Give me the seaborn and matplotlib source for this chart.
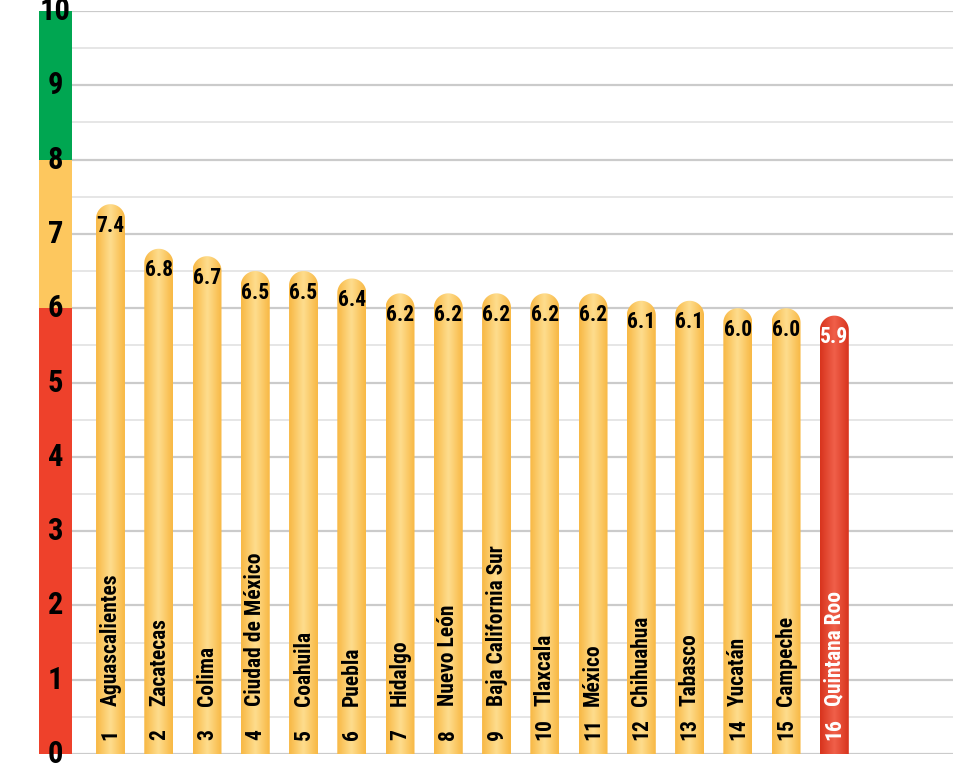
import matplotlib
matplotlib.use("Agg")
import numpy as np
import pandas as pd
import seaborn as sns
import matplotlib.pyplot as plt
from matplotlib.path import Path
from matplotlib.patches import PathPatch
from matplotlib.colors import LinearSegmentedColormap
from matplotlib import font_manager

# datos
ranks = list(range(1, 17))
states = ["Aguascalientes", "Zacatecas", "Colima", "Ciudad de México", "Coahuila",
          "Puebla", "Hidalgo", "Nuevo León", "Baja California Sur", "Tlaxcala",
          "México", "Chihuahua", "Tabasco", "Yucatán", "Campeche", "Quintana Roo"]
scores = [7.4, 6.8, 6.7, 6.5, 6.5, 6.4, 6.2, 6.2, 6.2, 6.2, 6.2, 6.1, 6.1, 6.0, 6.0, 5.9]
band_edges = [0, 6, 8, 10]
band_colors = ["#EE412B", "#FDC75E", "#00A651"]
y_ticks = list(range(0, 11))

sns.set_theme(style="white")
installed = {f.name for f in font_manager.fontManager.ttflist}
cond = next((f for f in ["Liberation Sans Narrow", "DejaVu Sans Condensed", "Roboto Condensed"]
             if f in installed), "DejaVu Sans")
plt.rcParams["font.family"] = [cond, "DejaVu Sans"]

fig = plt.figure(figsize=(9.54, 7.78), dpi=100)
ax = fig.add_axes([0, 24 / 778, 1, 743 / 778])

df = pd.DataFrame({"estado": states, "calificacion": scores})
sns.barplot(data=df, x="estado", y="calificacion", color="#FDC75E",
            width=0.6, saturation=1, ax=ax)

xmin, xmax = -2.29, 17.48
ax.set_xlim(xmin, xmax)
ax.set_ylim(0, 10)
for s in ax.spines.values():
    s.set_visible(False)
ax.set_xticks([])
ax.set_yticks([])
ax.set_xlabel("")
ax.set_ylabel("")

# franja de colores a la izquierda
strip_x0, strip_x1 = -1.482, -0.798
for lo, hi, c in zip(band_edges[:-1], band_edges[1:], band_colors):
    ax.bar((strip_x0 + strip_x1) / 2, hi - lo, bottom=lo, width=strip_x1 - strip_x0,
           color=c, zorder=1, linewidth=0)
for t in y_ticks:
    ax.text((strip_x0 + strip_x1) / 2, t, str(t), ha="center", va="center",
            fontsize=22, fontweight="bold", color="black", clip_on=False, zorder=5)

# rejilla
ax.hlines(np.arange(0.5, 10, 1), strip_x1, xmax, color="#e6e6e6", lw=1.4, zorder=0)
ax.hlines(y_ticks, strip_x1, xmax, color="#cbcbcb", lw=1.6, zorder=0)

# barras con degradado y tapa redondeada
px = ax.transData.transform((1, 1)) - ax.transData.transform((0, 0))
yellow = LinearSegmentedColormap.from_list("am", ["#F8B844", "#FEDD8E", "#F8B844"])
red = LinearSegmentedColormap.from_list("ro", ["#D8341D", "#F0604A", "#D8341D"])
grad = np.linspace(0, 1, 64).reshape(1, -1)
for i, p in enumerate(ax.patches[:len(scores)]):
    x0, w, h = p.get_x(), p.get_width(), p.get_height()
    p.set_visible(False)
    ry = (w / 2) * px[0] / px[1]
    cx = x0 + w / 2
    t = np.linspace(np.pi, 0, 40)
    verts = [(x0, 0), (x0, h - ry)] + list(zip(cx + w / 2 * np.cos(t), h - ry + ry * np.sin(t))) \
        + [(x0 + w, 0), (x0, 0)]
    path = Path(verts, [Path.MOVETO] + [Path.LINETO] * (len(verts) - 2) + [Path.CLOSEPOLY])
    clip = PathPatch(path, transform=ax.transData, facecolor="none", edgecolor="none")
    ax.add_patch(clip)
    last = i == len(scores) - 1
    im = ax.imshow(grad, extent=(x0, x0 + w, 0, h), aspect="auto",
                   cmap=red if last else yellow, zorder=2, interpolation="bicubic")
    im.set_clip_path(clip)
    tc = "white" if last else "black"
    ax.text(cx, h - 0.29, f"{scores[i]:.1f}", ha="center", va="center",
            fontsize=15.5, fontweight="bold", color=tc, zorder=4)
    ax.text(cx, 0.19, str(ranks[i]), ha="center", va="bottom", rotation=90,
            fontsize=15.5, fontweight="bold", color=tc, zorder=4)
    ax.text(cx, 0.64, states[i], ha="center", va="bottom", rotation=90,
            fontsize=15.5, fontweight="bold", color=tc, zorder=4)

ax.set_xlim(xmin, xmax)
ax.set_ylim(0, 10)
fig.savefig("out.png", dpi=100)
